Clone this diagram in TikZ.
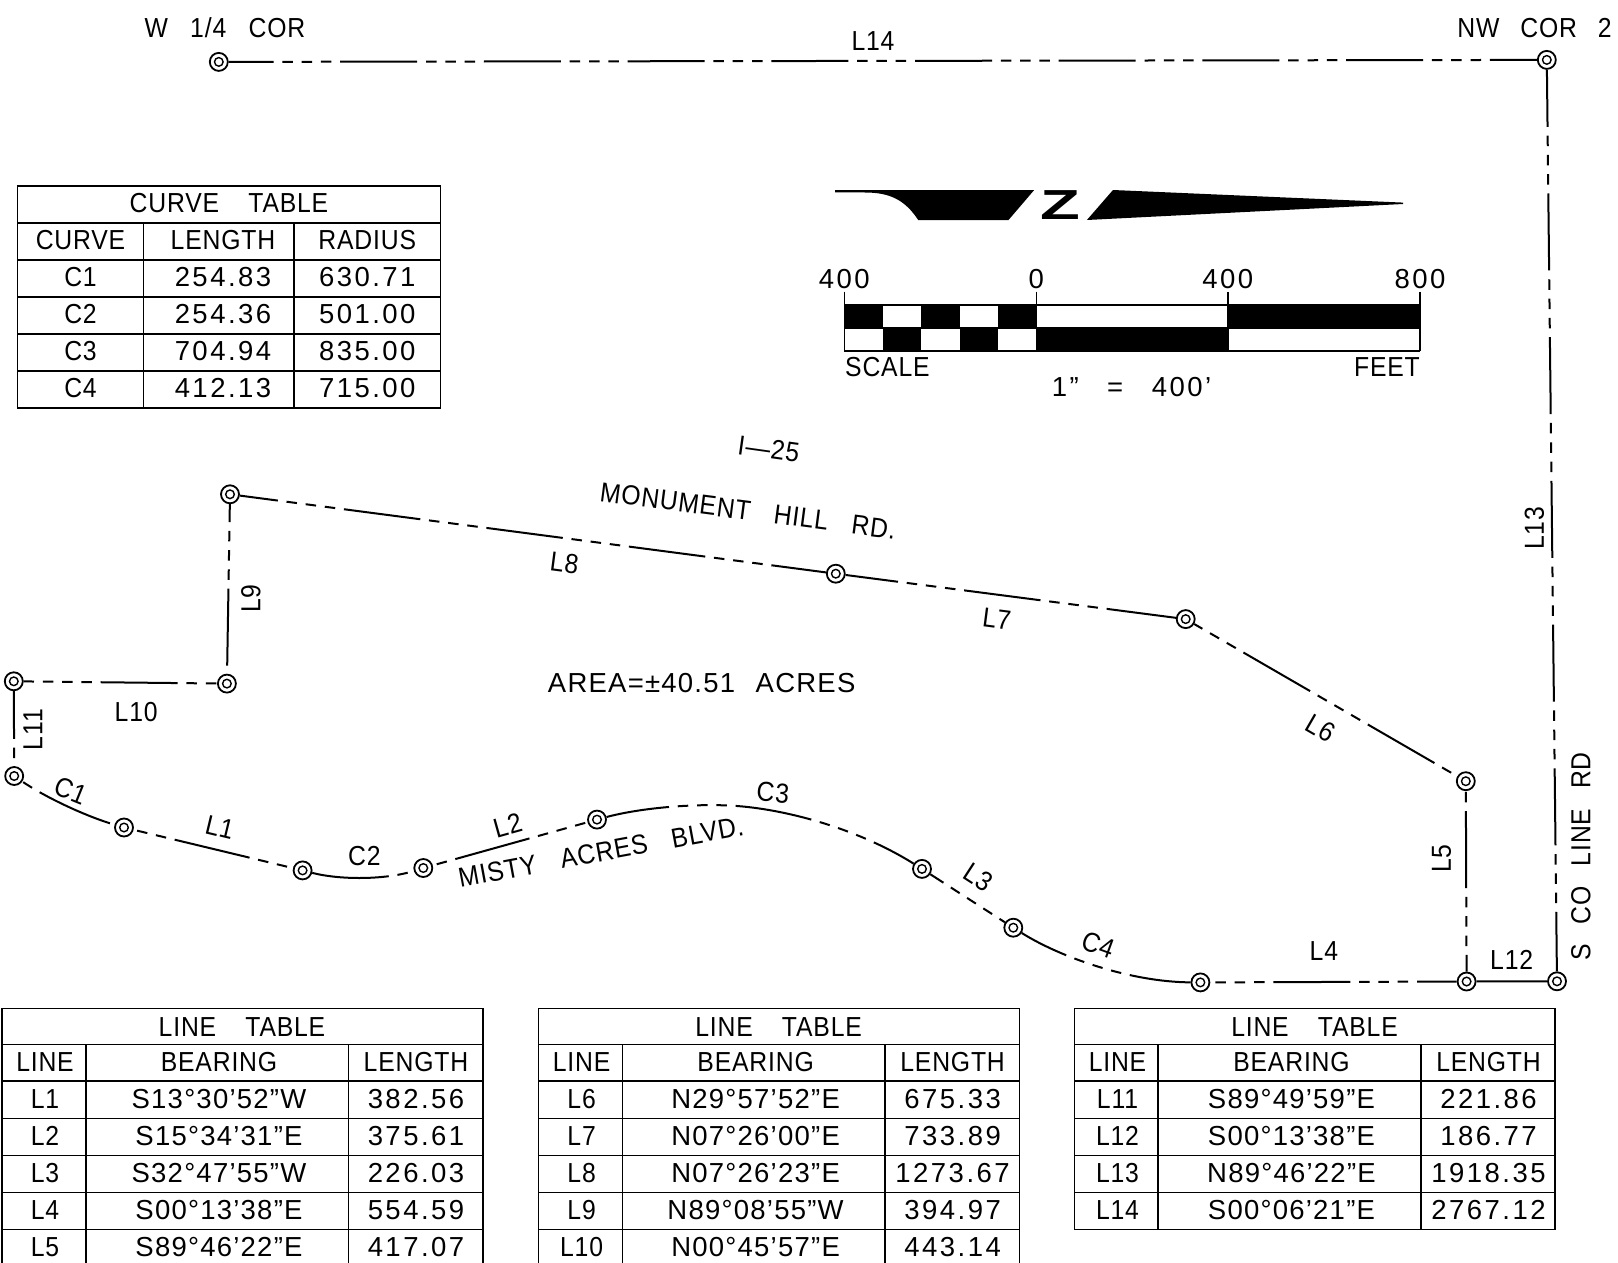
\documentclass[tikz,border=0pt]{standalone}
\usepackage{fontspec}
\setmainfont[FakeStretch=0.9,LetterSpace=3]{Liberation Sans}
\newfontfamily\numf[LetterSpace=9]{Liberation Sans}
\newfontfamily\bearf[LetterSpace=4.5]{Liberation Sans}
\newfontfamily\arrowf[FakeStretch=1.55]{Liberation Sans}
\newcommand{\wgap}[1]{\hspace{#1em}}
\tikzset{
  monument/.style={circle,draw=black,line width=1.8pt,fill=white,minimum size=18pt,inner sep=0pt,
    path picture={\draw[line width=1.4pt] (path picture bounding box.center) circle (4.3pt);
                  \fill (path picture bounding box.center) circle (1.3pt);}},
  lbl/.style={inner sep=0pt,text=black,font=\fontsize{27.5}{30}\selectfont},
  numlbl/.style={inner sep=0pt,text=black,font=\fontsize{27.5}{30}\selectfont\numf},
  cell/.style={inner sep=0pt,anchor=base,text=black,font=\fontsize{27.5}{30}\selectfont},
  numcell/.style={cell,font=\fontsize{27.5}{30}\selectfont\numf},
  bearcell/.style={cell,font=\fontsize{27.5}{30}\selectfont\bearf},
  grid line/.style={draw=black,line width=1.6pt},
  boundary/.style={draw=black,line width=2pt,
    dash pattern=on 77pt off 8.8pt on 10.5pt off 8.8pt on 10.5pt off 8.8pt on 10.5pt off 8.8pt,
    dash phase=#1pt},
  solid boundary/.style={draw=black,line width=2pt},
  sector/.style={fill=black,draw=none}
}
\newcommand{\linetable}[4]{%
  \begin{scope}[xshift=#2pt]
    \foreach \yy in {1008.3,1044.3,1081,1118.3,1155.3,1192.3,1229.3}
      \draw[grid line] (2,\yy) -- (482.7,\yy);
    \foreach \xx in {2,482.7}
      \draw[grid line,line cap=rect] (\xx,1008.3) -- (\xx,#3);
    \foreach \xx in {85.7,348.3}
      \draw[grid line] (\xx,1044.3) -- (\xx,#3);
    \node[cell] (#1title) at (242,1036) {LINE\ \ \hspace{0.5em}TABLE};
    \node[cell] (#1ha) at (45,1071.5) {LINE};
    \node[cell] (#1hb) at (219,1071.5) {BEARING};
    \node[cell] (#1hc) at (416,1071.5) {LENGTH};
    \foreach \a/\b/\c [count=\i] in {#4} {
      \pgfmathsetmacro{\base}{1108.3+37*(\i-1)}
      \node[cell] (#1a\i) at (45,\base) {\a};
      \node[bearcell] (#1b\i) at (219,\base) {\b};
      \node[numcell] (#1c\i) at (416,\base) {\c};
    }
  \end{scope}}
\begin{document}
\begin{tikzpicture}[x=1pt,y=-1pt]
\useasboundingbox (0,0) rectangle (1618,1263);
\fill[white] (0,0) rectangle (1618,1263);

% monuments
\node[monument] (W) at (218.8,61.9) {};
\node[monument] (NW) at (1546.8,59.9) {};
\node[monument] (a) at (230,494.3) {};
\node[monument] (b) at (835.8,573.7) {};
\node[monument] (c) at (1185.7,619.1) {};
\node[monument] (d) at (1465.8,781.2) {};
\node[monument] (e) at (1466.6,981.5) {};
\node[monument] (f) at (1557,981.3) {};
\node[monument] (g) at (1200.4,982.4) {};
\node[monument] (h) at (1013.3,927.7) {};
\node[monument] (i) at (922,868.9) {};
\node[monument] (j) at (597,819.6) {};
\node[monument] (k) at (423.3,868) {};
\node[monument] (l) at (302.6,870.4) {};
\node[monument] (m) at (124,827.5) {};
\node[monument] (n) at (14.2,776) {};
\node[monument] (o) at (13.8,681.3) {};
\node[monument] (p) at (226.9,683.6) {};

% boundary
\draw[boundary=32.2] (W) -- (NW);
\draw[boundary=20] (NW) -- (f);
\draw[solid boundary] (e) -- (f);
\draw[boundary=123.7] (d) -- (e);
\draw[boundary=80.7] (g) -- (e);
\draw[boundary=27.2] (h) .. controls (1060,957) and (1130,982) .. (g);
\draw[boundary=61.4] (i) -- (h);
\draw[boundary=13.7] (j) .. controls (640,808) and (695,803) .. (737,806) .. controls (790,810) and (860,830) .. (i);
\draw[boundary=120.4] (k) -- (j);
\draw[boundary=0] (l) .. controls (340,880) and (385,880) .. (k);
\draw[boundary=101.5] (m) -- (l);
\draw[boundary=123.4] (n) .. controls (45,797) and (85,816) .. (m);
\draw[boundary=29.4] (o) -- (n);
\draw[boundary=66.7] (o) -- (p);
\draw[boundary=135.7] (p) -- (a);
\draw[boundary=38.7] (a) -- (b);
\draw[boundary=24.2] (b) -- (c);
\draw[boundary=86.9] (c) -- (d);

% labels
\node[lbl] (tW) at (224.9,27.9) {W\ \ \wgap{.25}1/4\ \ \wgap{.25}COR};
\node[lbl] (tNW) at (1534.5,27.9) {NW\ \ \wgap{.2}COR\ \ \wgap{.2}2};
\node[lbl] (t14) at (873,41.3) {L14};
\node[lbl,rotate=90] (t13) at (1534.5,528.3) {L13};
\node[lbl,rotate=90] (tS) at (1580.9,856.5) {S\ \ \wgap{.17}CO\ \ \wgap{.17}LINE\ \ \wgap{.17}RD};
\node[lbl,rotate=90] (t5) at (1441.6,858.5) {L5};
\node[lbl] (t12) at (1511.7,959.7) {L12};
\node[lbl] (t4) at (1323.9,951.4) {L4};
\node[lbl,rotate=-20] (tc4) at (1098,945.2) {C4};
\node[lbl,rotate=-33] (t3) at (978.2,877) {L3};
\node[lbl,rotate=-5] (tc3) at (772.9,792.5) {C3};
\node[lbl,rotate=15.6] (t2) at (507.7,825.5) {L2};
\node[lbl,rotate=10.5] (tm) at (601,852) {MISTY\ \ \wgap{.33}ACRES\ \ \wgap{.33}BLVD.};
\node[lbl] (tc2) at (364.3,856.5) {C2};
\node[lbl,rotate=-13.5] (t1) at (219.8,827.6) {L1};
\node[lbl,rotate=-22] (tc1) at (71.2,790.4) {C1};
\node[lbl,rotate=90] (t11) at (33,729.6) {L11};
\node[lbl] (t10) at (136.2,712) {L10};
\node[lbl,rotate=90] (t9) at (250.8,598.5) {L9};
\node[lbl,rotate=-7.4] (t8) at (564.5,563.4) {L8};
\node[lbl,rotate=-7.4] (t7) at (996.8,619) {L7};
\node[lbl,rotate=-30] (t6) at (1320.8,728.5) {L6};
\node[lbl,rotate=-7.4] (tmh) at (748,510.8) {MONUMENT\ \ \wgap{.3}HILL\ \ \wgap{.3}RD.};
\node[lbl,rotate=-8] (ti) at (768.8,449) {I—25};
\node[inner sep=0pt,text=black,font=\fontsize{27.5}{30}\selectfont\bearf] (tarea) at (701.7,683.1) {AREA=±40.51\ \ \wgap{.1}ACRES};

% north arrow
\fill[black] (835.2,190) -- (1034.2,190) -- (1008.5,220) -- (918.2,220)
  .. controls (905,200) and (890,192.5) .. (865,192.5) -- (835.2,192.3) -- cycle;
\fill[black] (1113,190) -- (1403.2,202.6) -- (1403.2,204) -- (1086.9,220) -- cycle;
\node[inner sep=0pt,font=\fontsize{42}{42}\selectfont\arrowf\bfseries] (tN) at (1060.2,205) {Z};

% scale bar
\foreach \k/\ya/\yb in {0/306.4/326.8,2/306.4/326.8,4/306.4/326.8,1/328.8/350,3/328.8/350}
  \fill[sector] ({844.4+38.38*\k},\ya) rectangle ({844.4+38.38*(\k+1)},\yb);
\fill[sector] (1036.3,328.8) rectangle (1227.9,350);
\fill[sector] (1227.9,306.4) rectangle (1419.8,326.8);
\draw[grid line] (844.4,305) -- (1419.8,305) (844.4,327.7) -- (1419.8,327.7) (844.4,351) -- (1419.8,351);
\draw[grid line] (844.4,291.7) -- (844.4,351) (1036.3,291.7) -- (1036.3,351)
  (1227.9,291.7) -- (1227.9,351) (1419.8,291.7) -- (1419.8,351);
\node[numlbl] (s0) at (844.4,278.6) {400};
\node[numlbl] (s1) at (1036.3,278.6) {0};
\node[numlbl] (s2) at (1227.9,278.6) {400};
\node[numlbl] (s3) at (1420,278.6) {800};
\node[lbl,anchor=west] (s4) at (845,367) {SCALE};
\node[lbl,anchor=east] (s5) at (1420,367) {FEET};
\node[numlbl] (s6) at (1131.5,387.5) {1”\ \ \wgap{.3}=\ \ \wgap{.3}400’};

% curve table
\foreach \yy in {185.8,222.8,259.8,296.8,333.8,370.8,407.8}
  \draw[grid line] (17.5,\yy) -- (440.6,\yy);
\draw[grid line,line cap=rect] (17.5,185.8) -- (17.5,407.8) (440.6,185.8) -- (440.6,407.8);
\draw[grid line] (143.4,222.8) -- (143.4,407.8) (294,222.8) -- (294,407.8);
\node[cell] (cT) at (229,212.8) {CURVE\ \ \hspace{0.5em}TABLE};
\node[cell] (cHa) at (80.5,249.8) {CURVE};
\node[cell] (cHb) at (223,249.8) {LENGTH};
\node[cell] (cHc) at (367.3,249.8) {RADIUS};
\foreach \a/\b/\c [count=\i] in {C1/254.83/630.71,C2/254.36/501.00,C3/704.94/835.00,C4/412.13/715.00} {
  \pgfmathsetmacro{\base}{286.8+37*(\i-1)}
  \node[cell] (cA\i) at (80.5,\base) {\a};
  \node[numcell] (cB\i) at (223,\base) {\b};
  \node[numcell] (cC\i) at (367.3,\base) {\c};
}

% line tables
\linetable{A}{0}{1263}{L1/S13°30’52”W/382.56,L2/S15°34’31”E/375.61,L3/S32°47’55”W/226.03,L4/S00°13’38”E/554.59,L5/S89°46’22”E/417.07}
\linetable{B}{536.6}{1263}{L6/N29°57’52”E/675.33,L7/N07°26’00”E/733.89,L8/N07°26’23”E/1273.67,L9/N89°08’55”W/394.97,L10/N00°45’57”E/443.14}
\linetable{C}{1072.5}{1229.3}{L11/S89°49’59”E/221.86,L12/S00°13’38”E/186.77,L13/N89°46’22”E/1918.35,L14/S00°06’21”E/2767.12}
\end{tikzpicture}
\end{document}
